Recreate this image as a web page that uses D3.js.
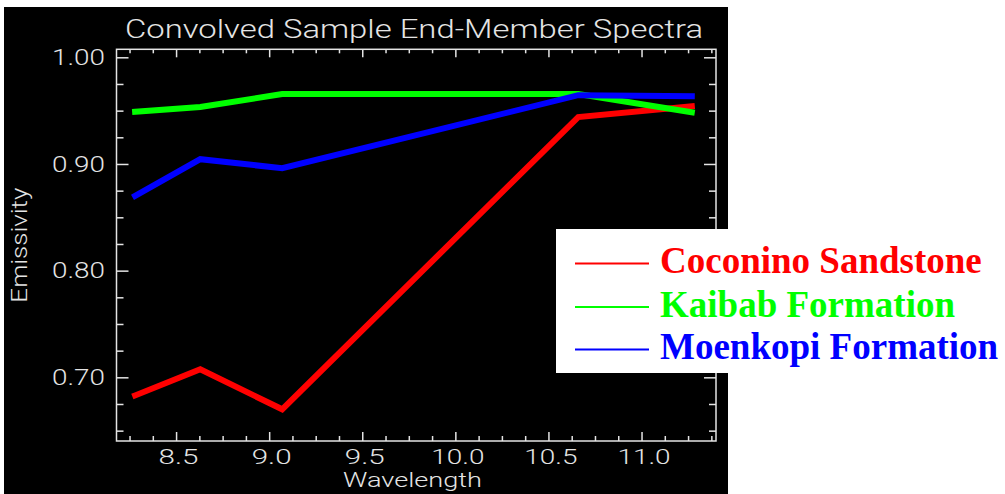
<!DOCTYPE html>
<html><head><meta charset="utf-8">
<script src="https://cdn.jsdelivr.net/npm/d3@7"></script>
<style>html,body{margin:0;padding:0;background:#fff;} svg{display:block}</style>
</head><body><svg id="chart" width="1005" height="494"></svg>
<script>
// ---- data ----
const wavelengths = [8.28, 8.63, 9.07, 10.66, 11.27];
const coconino   = [0.683, 0.7075, 0.670, 0.944, 0.954];
const kaibab     = [0.949, 0.9535, 0.9655, 0.9655, 0.9485];
const moenkopi   = [0.870, 0.9045, 0.896, 0.9645, 0.9635];
const seriesNames  = ["Coconino Sandstone", "Kaibab Formation", "Moenkopi Formation"];
const seriesColors = ["#ff0000", "#00ff00", "#0000ff"];
const xMajorTicks = [8.5, 9.0, 9.5, 10.0, 10.5, 11.0];
const yMajorTicks = [0.70, 0.80, 0.90, 1.00];
const titleText = "Convolved Sample End-Member Spectra";
const xLabel = "Wavelength";
const yLabel = "Emissivity";

const series = [coconino, kaibab, moenkopi];

const svg = d3.select("#chart");
const axisColor = "#e4e4e4";
const hershey = "Roboto, 'DejaVu Sans', sans-serif";

// panel
svg.append("rect").attr("x", 4).attr("y", 7).attr("width", 724).attr("height", 487).attr("fill", "#000");

const L = 116.5, R = 716, T = 49.3, B = 441;
const x = d3.scaleLinear().domain([8.18, 11.4]).range([L, R]);
const y = d3.scaleLinear().domain([0.6403, 1.0075]).range([B, T]);

const xMinor = d3.range(8.25, 11.4, 0.125).filter(v => !xMajorTicks.some(m => Math.abs(m - v) < 1e-6));
const yMinor = d3.range(0.65, 1.0075, 0.025).filter(v => !yMajorTicks.some(m => Math.abs(m - v) < 1e-6));

function styleAxis(g) {
  g.select(".domain").remove();
  g.selectAll("line").attr("stroke", axisColor).attr("stroke-width", 1.5);
}

// bottom
svg.append("g").attr("transform", `translate(0,${B})`)
  .call(d3.axisBottom(x).tickValues(xMinor).tickSize(-5).tickFormat(""))
  .call(styleAxis);
const gb = svg.append("g").attr("transform", `translate(0,${B})`)
  .call(d3.axisBottom(x).tickValues(xMajorTicks).tickSize(-9).tickPadding(9).tickFormat(d3.format(".1f")))
  .call(styleAxis);
gb.selectAll("text").attr("fill", axisColor).attr("font-family", hershey).attr("font-weight", 300)
  .attr("font-size", 19.5).attr("dx", "0.1em")
  .attr("textLength", d => d3.format(".1f")(d).length * 13.3).attr("lengthAdjust", "spacingAndGlyphs");

// top
svg.append("g").attr("transform", `translate(0,${T})`)
  .call(d3.axisTop(x).tickValues(xMinor).tickSize(-4).tickFormat(""))
  .call(styleAxis);
svg.append("g").attr("transform", `translate(0,${T})`)
  .call(d3.axisTop(x).tickValues(xMajorTicks).tickSize(-8).tickFormat(""))
  .call(styleAxis);

// left
svg.append("g").attr("transform", `translate(${L},0)`)
  .call(d3.axisLeft(y).tickValues(yMinor).tickSize(-7).tickFormat(""))
  .call(styleAxis);
const gl = svg.append("g").attr("transform", `translate(${L},0)`)
  .call(d3.axisLeft(y).tickValues(yMajorTicks).tickSize(-12).tickPadding(11.5).tickFormat(d3.format(".2f")))
  .call(styleAxis);
gl.selectAll("text").attr("fill", axisColor).attr("font-family", hershey).attr("font-weight", 300)
  .attr("font-size", 22)
  .attr("textLength", 53).attr("lengthAdjust", "spacingAndGlyphs");

// right
svg.append("g").attr("transform", `translate(${R},0)`)
  .call(d3.axisRight(y).tickValues(yMinor).tickSize(-7).tickFormat(""))
  .call(styleAxis);
svg.append("g").attr("transform", `translate(${R},0)`)
  .call(d3.axisRight(y).tickValues(yMajorTicks).tickSize(-12).tickFormat(""))
  .call(styleAxis);

// frame
svg.append("rect").attr("x", L).attr("y", T).attr("width", R - L).attr("height", B - T)
  .attr("fill", "none").attr("stroke", axisColor).attr("stroke-width", 1.5);

// title
svg.append("text").attr("x", 125).attr("y", 38).text(titleText)
  .attr("fill", axisColor).attr("font-family", hershey).attr("font-weight", 300).attr("font-size", 25)
  .attr("textLength", 578).attr("lengthAdjust", "spacingAndGlyphs");

// axis labels
svg.append("text").attr("x", 343).attr("y", 486.5).text(xLabel)
  .attr("fill", axisColor).attr("font-family", hershey).attr("font-weight", 300).attr("font-size", 21)
  .attr("textLength", 139).attr("lengthAdjust", "spacingAndGlyphs");
svg.append("text").attr("transform", `translate(27,${(T + B) / 2}) rotate(-90)`)
  .attr("text-anchor", "middle").text(yLabel)
  .attr("fill", axisColor).attr("font-family", hershey).attr("font-weight", 300).attr("font-size", 22)
  .attr("textLength", 115).attr("lengthAdjust", "spacingAndGlyphs");

// lines
const line = d3.line().x((d, i) => x(wavelengths[i])).y(d => y(d));
series.forEach((s, k) => {
  svg.append("path").datum(s).attr("d", line)
    .attr("fill", "none").attr("stroke", seriesColors[k]).attr("stroke-width", 6)
    .attr("stroke-linejoin", "miter").attr("stroke-linecap", "square");
});

// legend
const lg = svg.append("g");
lg.append("rect").attr("x", 556).attr("y", 229).attr("width", 449).attr("height", 144).attr("fill", "#fff");
const legY = [273, 316.5, 359];
seriesNames.forEach((n, k) => {
  lg.append("line").attr("x1", 575).attr("x2", 649).attr("y1", legY[k] - 9.5).attr("y2", legY[k] - 9.5)
    .attr("stroke", seriesColors[k]).attr("stroke-width", 2);
  lg.append("text").attr("x", 660).attr("y", legY[k]).text(n)
    .attr("fill", seriesColors[k]).attr("font-family", "'Liberation Serif', 'Times New Roman', serif")
    .attr("font-weight", "bold").attr("font-size", 37);
});
</script>
</body></html>
